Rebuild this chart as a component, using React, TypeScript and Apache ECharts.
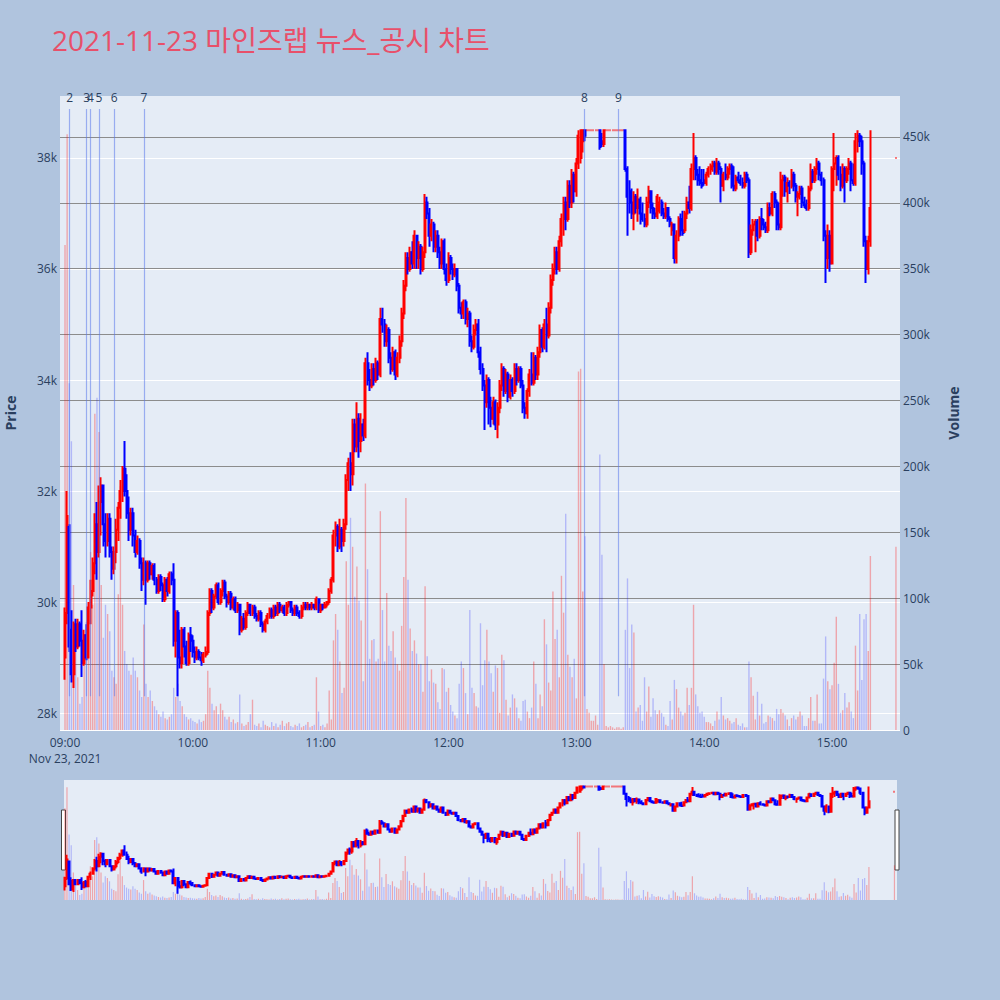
import React, { useEffect, useRef } from "react";
import * as echarts from "echarts";

// [open, close, low, high] in thousand KRW, one row per minute
type OCLH = [number, number, number, number];

const TITLE = "2021-11-23 마인즈랩 뉴스_공시 차트";
const DATE_LABEL = "Nov 23, 2021";
const HOUR_LABELS = ["09:00", "10:00", "11:00", "12:00", "13:00", "14:00", "15:00"];
const HOUR_TICKS = [0, 60, 120, 180, 240, 300, 360]; // minutes after 09:00

const EVENT_LABELS = ["2", "3", "4", "5", "6", "7", "8", "9"];
const EVENT_TIMES = ["09:02:12", "09:10:12", "09:11:54", "09:15:54", "09:23:06", "09:37:06", "13:03:48", "13:19:42"];
const EVENT_LINE_LOW = 28.3;
const EVENT_LINE_HIGH = 38.885;

const c0900: OCLH[] = [
  [29.0, 29.8, 28.6, 29.9], [29.8, 31.55, 29.6, 32.0], [31.35, 29.2, 29.1, 31.4], [29.5, 28.7, 28.55, 29.85], [28.7, 29.6, 28.45, 29.65], [29.6, 29.2, 29.1, 29.7], [29.2, 29.6, 29.15, 29.7], [29.6, 29.3, 29.2, 29.65], [29.3, 28.9, 28.65, 29.85], [28.9, 29.4, 28.85, 29.5],
  [29.4, 29.0, 28.95, 29.6], [29.0, 29.9, 29.0, 30.0], [29.9, 30.2, 29.6, 30.4], [30.2, 30.7, 30.1, 30.8], [30.7, 31.4, 30.5, 31.6], [31.4, 30.9, 30.4, 31.8], [30.9, 31.8, 30.8, 32.1], [31.8, 32.1, 31.2, 32.25], [32.1, 31.4, 31.0, 32.1], [31.4, 31.1, 30.8, 31.6],
  [31.1, 31.5, 31.0, 31.6], [31.5, 30.9, 30.8, 31.6], [30.9, 30.6, 30.4, 31.0], [30.6, 30.9, 30.5, 31.0], [30.9, 31.3, 30.7, 31.5], [31.3, 31.7, 31.1, 31.8], [31.7, 32.0, 31.5, 32.2], [32.0, 32.4, 31.8, 32.45], [32.4, 32.0, 31.9, 32.9], [32.0, 31.6, 31.5, 32.3],
  [31.6, 31.3, 31.1, 31.9], [31.3, 31.6, 31.2, 31.7], [31.6, 31.2, 31.0, 31.7], [31.2, 30.9, 30.8, 31.3], [30.9, 31.1, 30.85, 31.2], [31.1, 30.7, 30.6, 31.15], [30.7, 30.4, 30.2, 30.8], [30.4, 30.7, 30.3, 30.8], [30.7, 30.4, 29.95, 30.75], [30.4, 30.7, 30.35, 30.75],
  [30.7, 30.5, 30.4, 30.75], [30.5, 30.65, 30.4, 30.7], [30.65, 30.4, 30.3, 30.7], [30.4, 30.2, 30.15, 30.45], [30.2, 30.45, 30.15, 30.5], [30.45, 30.3, 30.2, 30.5], [30.3, 30.05, 30.0, 30.35], [30.05, 30.4, 30.0, 30.45], [30.4, 30.2, 30.1, 30.45], [30.2, 30.5, 30.15, 30.55],
  [30.5, 30.4, 30.3, 30.55], [30.4, 29.3, 29.2, 30.7], [29.3, 29.8, 29.0, 29.85], [29.8, 29.0, 28.3, 29.85], [29.0, 28.9, 28.8, 29.5], [28.9, 29.5, 28.8, 29.55], [29.5, 29.2, 29.0, 29.55], [29.2, 28.9, 28.85, 29.3], [28.9, 29.4, 28.85, 29.45], [29.4, 29.3, 29.1, 29.55],
];

const c1000: OCLH[] = [
  [29.3, 29.1, 29.0, 29.4], [29.1, 29.0, 28.9, 29.2], [29.0, 29.1, 28.95, 29.2], [29.1, 29.0, 28.95, 29.15], [29.0, 28.95, 28.85, 29.1], [28.95, 29.05, 28.9, 29.1], [29.05, 29.1, 29.0, 29.2], [29.1, 29.8, 29.05, 29.85], [29.8, 30.2, 29.75, 30.25], [30.2, 29.9, 29.8, 30.25],
  [29.9, 30.1, 29.85, 30.15], [30.1, 30.3, 30.05, 30.35], [30.3, 30.0, 29.95, 30.35], [30.0, 30.2, 29.95, 30.25], [30.2, 30.35, 30.1, 30.4], [30.35, 30.1, 30.05, 30.4], [30.1, 30.0, 29.9, 30.15], [30.0, 30.15, 29.95, 30.2], [30.15, 29.9, 29.85, 30.2], [29.9, 30.05, 29.85, 30.1],
  [30.05, 29.85, 29.8, 30.1], [29.85, 29.95, 29.8, 30.0], [29.95, 29.5, 29.4, 29.95], [29.5, 29.7, 29.45, 29.75], [29.7, 29.55, 29.5, 29.8], [29.55, 29.8, 29.5, 29.85], [29.8, 29.95, 29.75, 30.0], [29.95, 29.8, 29.75, 29.95], [29.8, 29.9, 29.75, 29.95], [29.9, 29.75, 29.7, 29.95],
  [29.75, 29.7, 29.65, 29.8], [29.7, 29.8, 29.65, 29.85], [29.8, 29.6, 29.55, 29.85], [29.6, 29.5, 29.45, 29.65], [29.5, 29.65, 29.45, 29.7], [29.65, 29.75, 29.6, 29.8], [29.75, 29.85, 29.7, 29.9], [29.85, 29.75, 29.7, 29.9], [29.75, 29.9, 29.7, 29.95], [29.9, 29.8, 29.75, 29.95],
  [29.8, 29.95, 29.75, 30.0], [29.95, 29.85, 29.8, 30.0], [29.85, 29.9, 29.8, 29.95], [29.9, 29.8, 29.75, 29.95], [29.8, 29.95, 29.75, 30.0], [29.95, 30.0, 29.9, 30.0], [30.0, 29.85, 29.8, 30.0], [29.85, 29.8, 29.75, 29.9], [29.8, 29.9, 29.75, 29.95], [29.9, 29.8, 29.75, 29.95],
  [29.8, 29.75, 29.7, 29.85], [29.75, 29.9, 29.7, 29.95], [29.9, 29.95, 29.85, 30.0], [29.95, 29.9, 29.85, 30.0], [29.9, 29.95, 29.85, 30.0], [29.95, 29.9, 29.85, 29.95], [29.9, 29.95, 29.85, 30.0], [29.95, 29.9, 29.85, 29.95], [29.9, 30.05, 29.85, 30.1], [30.05, 29.85, 29.8, 30.05],
];

const c1100: OCLH[] = [
  [29.85, 29.95, 29.8, 29.95], [29.95, 29.9, 29.85, 29.95], [29.9, 29.95, 29.9, 30.0], [29.95, 30.0, 29.9, 30.0], [30.0, 30.2, 29.95, 30.25], [30.2, 30.4, 30.15, 30.45], [30.4, 31.2, 30.35, 31.3], [31.2, 31.35, 31.0, 31.45], [31.35, 31.0, 30.9, 31.4], [31.0, 31.3, 30.95, 31.5],
  [31.3, 31.1, 30.9, 31.35], [31.1, 31.4, 31.0, 31.5], [31.4, 32.2, 31.3, 32.3], [32.2, 32.5, 32.0, 32.6], [32.5, 32.3, 32.0, 32.7], [32.3, 33.2, 32.1, 33.3], [33.2, 32.8, 32.7, 33.3], [32.8, 33.3, 32.7, 33.6], [33.3, 32.9, 32.6, 33.4], [32.9, 33.2, 32.7, 33.4],
  [33.2, 33.0, 32.9, 33.3], [33.0, 34.3, 32.95, 34.4], [34.3, 34.0, 33.9, 34.5], [34.0, 33.9, 33.8, 34.2], [33.9, 34.2, 33.85, 34.3], [34.2, 34.0, 33.9, 34.3], [34.0, 34.3, 33.95, 34.4], [34.3, 34.1, 34.0, 34.35], [34.1, 35.1, 34.05, 35.3], [35.1, 35.0, 34.85, 35.3],
  [35.0, 34.7, 34.6, 35.1], [34.7, 34.9, 34.6, 35.0], [34.9, 34.4, 34.3, 34.95], [34.4, 34.2, 34.1, 34.5], [34.2, 34.5, 34.15, 34.6], [34.5, 34.1, 34.0, 34.55], [34.1, 34.4, 34.05, 34.5], [34.4, 34.7, 34.3, 34.8], [34.7, 35.2, 34.6, 35.3], [35.2, 35.7, 35.1, 35.8],
  [35.7, 36.2, 35.6, 36.3], [36.2, 36.0, 35.9, 36.3], [36.0, 36.3, 35.95, 36.4], [36.3, 36.1, 36.0, 36.5], [36.1, 36.6, 36.0, 36.7], [36.6, 36.2, 36.0, 36.6], [36.2, 36.4, 36.0, 36.5], [36.4, 36.0, 35.9, 36.45], [36.0, 36.3, 35.95, 36.4], [36.3, 37.2, 36.2, 37.35],
  [37.2, 37.0, 36.9, 37.3], [37.0, 36.6, 36.4, 37.1], [36.6, 36.8, 36.5, 36.9], [36.8, 36.4, 36.3, 36.85], [36.4, 36.6, 36.3, 36.7], [36.6, 36.3, 36.2, 36.7], [36.3, 36.1, 36.0, 36.4], [36.1, 36.5, 36.0, 36.55], [36.5, 36.0, 35.9, 36.55], [36.0, 35.8, 35.7, 36.1],
];

const c1200: OCLH[] = [
  [35.8, 36.2, 35.75, 36.3], [36.2, 36.0, 35.9, 36.25], [36.0, 35.9, 35.8, 36.1], [35.9, 36.0, 35.85, 36.1], [36.0, 35.7, 35.6, 36.0], [35.7, 35.3, 35.2, 35.75], [35.3, 35.2, 35.1, 35.4], [35.2, 35.4, 35.1, 35.45], [35.4, 35.1, 35.0, 35.45], [35.1, 35.2, 34.95, 35.3],
  [35.2, 34.7, 34.6, 35.25], [34.7, 34.6, 34.5, 34.8], [34.6, 34.9, 34.55, 35.0], [34.9, 35.0, 34.8, 35.1], [35.0, 34.5, 34.4, 35.1], [34.5, 34.2, 34.1, 34.6], [34.2, 33.9, 33.8, 34.3], [33.9, 33.6, 33.1, 34.0], [33.6, 34.0, 33.5, 34.1], [34.0, 33.5, 33.2, 34.05],
  [33.5, 33.3, 33.15, 33.7], [33.3, 33.6, 33.2, 33.7], [33.6, 33.2, 33.1, 33.65], [33.2, 33.5, 32.95, 33.6], [33.5, 33.9, 33.4, 34.0], [33.9, 34.2, 33.8, 34.3], [34.2, 33.8, 33.7, 34.25], [33.8, 34.1, 33.75, 34.2], [34.1, 33.7, 33.6, 34.15], [33.7, 34.0, 33.65, 34.1],
  [34.0, 33.8, 33.7, 34.05], [33.8, 34.2, 33.75, 34.3], [34.2, 34.0, 33.9, 34.3], [34.0, 34.2, 33.95, 34.25], [34.2, 33.9, 33.85, 34.25], [33.9, 33.5, 33.4, 34.0], [33.5, 33.4, 33.3, 33.6], [33.4, 33.8, 33.3, 33.85], [33.8, 34.1, 33.7, 34.2], [34.1, 33.95, 33.9, 34.5],
  [33.95, 34.4, 33.9, 34.5], [34.4, 34.1, 34.0, 34.45], [34.1, 34.5, 34.0, 34.6], [34.5, 34.9, 34.4, 35.0], [34.9, 34.6, 34.5, 34.95], [34.6, 35.0, 34.55, 35.1], [35.0, 34.8, 34.5, 35.3], [34.8, 35.3, 34.75, 35.4], [35.3, 35.8, 35.2, 35.9], [35.8, 36.0, 35.7, 36.1],
  [36.0, 36.3, 35.9, 36.4], [36.3, 36.0, 35.9, 36.4], [36.0, 36.5, 35.95, 36.6], [36.5, 36.9, 36.4, 37.0], [36.9, 37.2, 36.6, 37.3], [37.2, 36.9, 36.7, 37.3], [36.9, 37.5, 36.85, 37.6], [37.5, 37.2, 37.1, 37.6], [37.2, 37.7, 37.1, 37.8], [37.7, 37.4, 37.2, 37.75],
];

const c1300: OCLH[] = [
  [37.4, 37.9, 37.3, 38.0], [37.9, 38.4, 37.8, 38.5], [38.0, 38.5, 37.9, 38.5], [38.3, 38.5, 38.1, 38.5], [38.5, 38.4, 38.3, 38.5], [38.5, 38.5, 38.5, 38.5], [38.5, 38.5, 38.5, 38.5], [38.5, 38.5, 38.5, 38.5], [38.5, 38.5, 38.5, 38.5], [38.5, 38.5, 38.5, 38.5],
  [38.5, 38.5, 38.5, 38.5], [38.5, 38.2, 38.15, 38.5], [38.3, 38.25, 38.2, 38.45], [38.25, 38.5, 38.2, 38.5], [38.5, 38.5, 38.5, 38.5], [38.5, 38.5, 38.5, 38.5], [38.5, 38.5, 38.5, 38.5], [38.5, 38.5, 38.5, 38.5], [38.5, 38.5, 38.5, 38.5], [38.5, 38.5, 38.5, 38.5],
  [38.5, 38.5, 38.5, 38.5], [38.5, 38.5, 38.5, 38.5], [38.5, 38.5, 38.5, 38.5], [38.5, 37.8, 37.75, 38.5], [37.8, 37.3, 36.6, 37.85], [37.4, 37.2, 37.0, 37.6], [37.2, 37.0, 36.9, 37.45], [37.0, 37.3, 36.7, 37.4], [37.3, 37.1, 37.0, 37.35], [37.1, 37.25, 36.85, 37.45],
  [37.25, 37.0, 36.8, 37.3], [37.0, 36.9, 36.85, 37.2], [36.9, 36.8, 36.75, 37.0], [36.8, 37.2, 36.75, 37.3], [37.2, 37.4, 37.1, 37.5], [37.4, 37.1, 37.0, 37.4], [37.1, 37.0, 36.9, 37.2], [37.0, 36.95, 36.9, 37.1], [36.95, 37.3, 36.9, 37.35], [37.05, 37.2, 37.0, 37.3],
  [37.2, 37.0, 36.95, 37.25], [37.0, 36.95, 36.9, 37.1], [36.95, 37.1, 36.9, 37.2], [37.1, 36.9, 36.85, 37.1], [36.9, 36.8, 36.75, 36.95], [36.7, 36.8, 36.6, 36.85], [36.8, 36.2, 36.1, 36.8], [36.2, 36.6, 36.1, 36.7], [36.6, 36.9, 36.5, 36.95], [36.9, 36.7, 36.6, 37.0],
  [36.7, 36.65, 36.6, 37.05], [36.7, 37.0, 36.65, 37.05], [37.0, 37.2, 36.9, 37.3], [37.2, 37.1, 37.0, 37.5], [37.1, 37.8, 37.05, 37.9], [37.8, 38.0, 37.6, 38.45], [38.0, 37.7, 37.6, 38.05], [37.7, 37.6, 37.5, 37.8], [37.6, 37.55, 37.5, 37.85], [37.55, 37.5, 37.45, 37.8],
];

const c1400: OCLH[] = [
  [37.6, 37.55, 37.5, 37.8], [37.55, 37.7, 37.5, 37.75], [37.7, 37.8, 37.65, 37.85], [37.8, 37.85, 37.7, 37.9], [37.85, 37.9, 37.75, 37.95], [37.9, 37.75, 37.7, 37.95], [37.75, 37.9, 37.7, 38.0], [37.9, 37.8, 37.7, 37.95], [37.8, 37.5, 37.2, 37.85], [37.5, 37.7, 37.4, 37.75],
  [37.7, 37.65, 37.6, 37.9], [37.65, 37.8, 37.6, 37.85], [37.8, 37.85, 37.7, 37.9], [37.85, 37.5, 37.45, 37.9], [37.5, 37.45, 37.4, 37.85], [37.45, 37.65, 37.4, 37.7], [37.65, 37.6, 37.55, 37.75], [37.6, 37.55, 37.5, 37.7], [37.55, 37.5, 37.45, 37.65], [37.5, 37.7, 37.45, 37.75],
  [37.7, 37.6, 37.55, 37.75], [37.6, 36.3, 36.2, 37.65], [36.3, 36.7, 36.25, 36.8], [36.7, 36.8, 36.6, 36.9], [36.8, 36.85, 36.3, 36.9], [36.85, 36.6, 36.5, 36.9], [36.6, 36.9, 36.55, 36.95], [36.9, 36.8, 36.7, 37.1], [36.8, 36.75, 36.7, 36.9], [36.75, 36.7, 36.65, 36.85],
  [36.7, 37.1, 36.65, 37.2], [37.1, 37.0, 36.95, 37.2], [37.0, 37.35, 36.95, 37.4], [37.35, 37.2, 37.1, 37.4], [37.2, 36.8, 36.7, 37.25], [36.8, 36.75, 36.7, 37.2], [36.75, 37.6, 36.7, 37.75], [37.6, 37.65, 37.3, 37.7], [37.65, 37.4, 37.3, 37.7], [37.4, 37.55, 37.2, 37.65],
  [37.55, 37.5, 37.35, 37.6], [37.5, 37.7, 37.45, 37.8], [37.7, 37.5, 37.4, 37.75], [37.5, 37.3, 37.2, 37.55], [37.3, 37.35, 36.95, 37.4], [37.35, 37.45, 37.25, 37.5], [37.45, 37.2, 37.1, 37.5], [37.2, 37.15, 37.1, 37.3], [37.15, 37.1, 37.05, 37.25], [37.1, 37.45, 37.05, 37.5],
  [37.45, 37.75, 37.4, 37.9], [37.75, 37.6, 37.55, 37.8], [37.6, 37.8, 37.55, 37.85], [37.8, 37.9, 37.7, 38.0], [37.9, 37.7, 37.6, 37.95], [37.7, 37.6, 37.5, 37.75], [37.6, 36.6, 36.5, 37.65], [36.6, 36.2, 35.75, 36.7], [36.2, 36.6, 36.0, 36.8], [36.6, 36.1, 35.95, 36.7],
];

const c1500: OCLH[] = [
  [36.1, 37.8, 36.1, 37.85], [37.8, 37.9, 37.4, 38.45], [37.9, 38.0, 37.5, 38.05], [38.0, 37.7, 37.6, 38.05], [37.7, 37.5, 37.4, 37.85], [37.5, 37.8, 37.45, 37.9], [37.8, 37.6, 37.2, 37.85], [37.6, 37.8, 37.55, 37.85], [37.8, 37.9, 37.7, 38.0], [37.9, 37.6, 37.4, 37.95],
  [37.6, 37.55, 37.5, 37.9], [37.55, 38.3, 37.5, 38.45], [38.3, 38.4, 38.1, 38.5], [38.4, 38.3, 38.2, 38.45], [38.3, 37.9, 37.7, 38.4], [37.9, 36.5, 36.4, 37.95], [36.5, 36.0, 35.75, 36.6], [36.0, 36.5, 35.9, 36.6], [36.5, 37.1, 36.4, 38.5],
];

const CLOSING_MINUTE = 390; // 15:30 closing auction
const closingCandle: OCLH = [38.0, 38.0, 38.0, 38.0];

// volume per minute, thousand shares
const v0900 = [
  368, 452, 263, 219, 110, 75, 40, 20, 25, 55,
  82, 90, 135, 95, 240, 252, 226, 110, 70, 95,
  88, 75, 45, 40, 35, 103, 185, 95, 60, 50,
  45, 42, 55, 45, 40, 30, 25, 80, 35, 25,
  30, 22, 18, 15, 12, 10, 14, 9, 8, 10,
  12, 32, 25, 35, 22, 18, 12, 10, 8, 9,
];
const v1000 = [
  7, 6, 5, 8, 6, 7, 12, 45, 32, 20,
  15, 18, 12, 20, 15, 10, 8, 10, 6, 8,
  5, 6, 27, 5, 3, 4, 6, 12, 23, 4,
  3, 5, 2, 7, 4, 3, 2, 6, 3, 5,
  2, 4, 7, 3, 5, 6, 3, 2, 4, 3,
  5, 2, 3, 4, 6, 2, 3, 4, 40, 14,
];
const v1100 = [
  3, 4, 2, 5, 30, 8, 68, 88, 76, 52,
  28, 32, 128, 95, 161, 139, 101, 124, 98, 83,
  37, 187, 122, 54, 68, 69, 52, 54, 166, 91,
  52, 104, 64, 60, 75, 55, 50, 45, 79, 116,
  176, 114, 77, 60, 68, 58, 50, 50, 29, 109,
  56, 37, 46, 36, 35, 21, 16, 47, 46, 29,
];
const v1200 = [
  32, 19, 14, 11, 9, 35, 52, 47, 28, 12,
  91, 32, 28, 18, 17, 81, 34, 53, 76, 52,
  43, 29, 49, 47, 13, 57, 53, 23, 11, 17,
  27, 24, 17, 9, 7, 22, 23, 14, 9, 17,
  52, 35, 9, 27, 18, 84, 65, 36, 30, 105,
  69, 76, 40, 117, 89, 164, 57, 48, 40, 54,
];
const v1300 = [
  24, 272, 274, 105, 147, 16, 13, 7, 7, 11,
  4, 209, 133, 50, 3, 2, 3, 2, 1, 2,
  2, 1, 2, 76, 115, 47, 80, 74, 14, 17,
  19, 7, 40, 14, 33, 10, 24, 15, 12, 15,
  13, 10, 4, 3, 22, 8, 38, 31, 17, 14,
  11, 13, 32, 19, 32, 95, 27, 18, 13, 14,
];
const v1400 = [
  10, 6, 6, 5, 3, 7, 14, 8, 25, 11,
  8, 9, 7, 5, 6, 9, 4, 3, 5, 2,
  2, 52, 40, 26, 8, 29, 11, 20, 5, 6,
  11, 10, 9, 7, 16, 12, 16, 13, 11, 8,
  3, 9, 11, 8, 10, 14, 11, 3, 3, 9,
  25, 7, 7, 27, 5, 5, 39, 71, 37, 31,
];
const v1500 = [
  34, 51, 86, 35, 13, 15, 28, 17, 21, 14,
  9, 64, 30, 88, 38, 84, 88, 60, 132,
];
const closingVolume = 139;

const HOUR_BLOCKS: [number, OCLH[], number[]][] = [
  [0, c0900, v0900],
  [60, c1000, v1000],
  [120, c1100, v1100],
  [180, c1200, v1200],
  [240, c1300, v1300],
  [300, c1400, v1400],
  [360, c1500, v1500],
];

const UP = "#FF0000";
const DOWN = "#0000FF";
const UP_VOL = "rgba(255,0,0,0.3)";
const DOWN_VOL = "rgba(0,0,255,0.22)";
const TEXT = "#2a3f5f";
const FONT = '"Open Sans", "Noto Sans CJK KR", "DejaVu Sans", sans-serif';

const PRICE_MIN = 27.694;
const PRICE_MAX = 39.117;
const VOL_MAX = 481000;

function toMinutes(t: string): number {
  const [h, m, s] = t.split(":").map(Number);
  return (h - 9) * 60 + m + s / 60;
}

function buildData() {
  const candles: number[][] = [];
  const volumes: any[] = [];
  const push = (x: number, d: OCLH, v: number) => {
    candles.push([x, d[0], d[1], d[2], d[3]]);
    volumes.push({ value: [x, v * 1000], itemStyle: { color: d[1] >= d[0] ? UP_VOL : DOWN_VOL } });
  };
  HOUR_BLOCKS.forEach(([start, cs, vs]) => {
    cs.forEach((d, i) => push(start + i, d, vs[i]));
  });
  push(CLOSING_MINUTE, closingCandle, closingVolume);
  return { candles, volumes };
}

export default function App() {
  const ref = useRef<HTMLDivElement>(null);

  useEffect(() => {
    document.body.style.margin = "0";
    if (!ref.current) return;
    const chart = echarts.init(ref.current, null, { renderer: "svg" });
    const { candles, volumes } = buildData();

    const eventLines = EVENT_TIMES.map((t, i) => {
      const x = toMinutes(t);
      return [
        { coord: [x, EVENT_LINE_LOW], name: EVENT_LABELS[i] },
        { coord: [x, EVENT_LINE_HIGH] },
      ];
    });

    const volSplitColors = ["#ffffff", "#8c8c8c", "#8c8c8c", "#8c8c8c", "#8c8c8c", "#8c8c8c", "#8c8c8c", "#8c8c8c", "#8c8c8c", "#8c8c8c", "rgba(0,0,0,0)"];

    const candleStyle = (w: number) => ({
      color: UP,
      color0: DOWN,
      borderColor: UP,
      borderColor0: DOWN,
      borderColorDoji: UP,
      borderWidth: w,
    });

    const option: any = {
      animation: false,
      backgroundColor: "#B0C4DE",
      textStyle: { fontFamily: FONT },
      title: {
        text: TITLE,
        left: 47,
        top: 21,
        textStyle: { color: "#E8506A", fontSize: 28, fontWeight: "normal", fontFamily: FONT },
      },
      grid: [
        { left: 60, top: 96, width: 840, height: 634, show: true, backgroundColor: "#E5ECF6", borderWidth: 0 },
        { left: 64, top: 780, width: 833, height: 120, show: true, backgroundColor: "#E5ECF6", borderWidth: 0 },
      ],
      xAxis: [
        {
          type: "value",
          gridIndex: 0,
          min: -2.35,
          max: 391.9,
          axisLine: { show: false },
          axisTick: { show: false },
          splitLine: { show: false },
          axisLabel: {
            customValues: HOUR_TICKS,
            color: TEXT,
            fontSize: 12,
            fontFamily: FONT,
            margin: 5,
            lineHeight: 15.5,
            formatter: (v: number) => {
              const i = HOUR_TICKS.indexOf(Math.round(v));
              const lab = i >= 0 ? HOUR_LABELS[i] : "";
              return i === 0 ? lab + "\n" + DATE_LABEL : lab;
            },
          },
        },
        { type: "value", gridIndex: 1, min: -0.4, max: 391.2, show: false, splitLine: { show: false } },
      ],
      yAxis: [
        {
          type: "value",
          gridIndex: 0,
          position: "left",
          min: PRICE_MIN,
          max: PRICE_MAX,
          splitNumber: 5,
          axisLine: { show: false },
          axisTick: { show: false },
          axisLabel: {
            color: TEXT,
            fontSize: 12,
            fontFamily: FONT,
            margin: 3,
            showMinLabel: false,
            showMaxLabel: false,
            formatter: (v: number) => `${Math.round(v)}k`,
          },
          splitLine: { show: true, showMaxLine: false, lineStyle: { color: "#ffffff", width: 1 } },
        },
        {
          type: "value",
          gridIndex: 0,
          position: "right",
          min: 0,
          max: VOL_MAX,
          interval: 50000,
          axisLine: { show: false },
          axisTick: { show: false },
          axisLabel: {
            color: TEXT,
            fontSize: 12,
            fontFamily: FONT,
            margin: 3,
            showMaxLabel: false,
            formatter: (v: number) => (v === 0 ? "0" : `${Math.round(v / 1000)}k`),
          },
          splitLine: { show: true, lineStyle: { color: volSplitColors, width: 1 } },
        },
        { type: "value", gridIndex: 1, min: PRICE_MIN, max: PRICE_MAX, show: false, splitLine: { show: false } },
        { type: "value", gridIndex: 1, min: 0, max: VOL_MAX, show: false, splitLine: { show: false } },
      ],
      graphic: [
        {
          type: "text",
          x: 10,
          y: 413,
          rotation: Math.PI / 2,
          style: { text: "Price", fill: TEXT, font: `bold 14px ${FONT}`, align: "center", verticalAlign: "middle" },
        },
        {
          type: "text",
          x: 953,
          y: 413,
          rotation: Math.PI / 2,
          style: { text: "Volume", fill: TEXT, font: `bold 14px ${FONT}`, align: "center", verticalAlign: "middle" },
        },
        { type: "rect", shape: { x: 61.5, y: 810, width: 4, height: 60 }, style: { fill: "#ffffff", stroke: "#444444", lineWidth: 1 } },
        { type: "rect", shape: { x: 895, y: 810, width: 4, height: 60 }, style: { fill: "#ffffff", stroke: "#444444", lineWidth: 1 } },
      ],
      series: [
        {
          type: "bar",
          name: "Volume",
          xAxisIndex: 0,
          yAxisIndex: 1,
          data: volumes,
          barWidth: 1.4,
          silent: true,
        },
        {
          type: "candlestick",
          name: "Price",
          xAxisIndex: 0,
          yAxisIndex: 0,
          data: candles,
          encode: { x: 0, y: [1, 2, 3, 4] },
          barWidth: 1.5,
          silent: true,
          itemStyle: candleStyle(2),
          markLine: {
            silent: true,
            symbol: ["none", "none"],
            animation: false,
            lineStyle: { color: "rgba(90,120,235,0.55)", width: 1.2, type: "solid" },
            label: { show: true, position: "end", formatter: "{b}", color: TEXT, fontSize: 12, fontFamily: FONT, distance: 5 },
            data: eventLines,
          },
        },
        {
          type: "bar",
          xAxisIndex: 1,
          yAxisIndex: 3,
          data: volumes,
          barWidth: 1.2,
          silent: true,
        },
        {
          type: "candlestick",
          xAxisIndex: 1,
          yAxisIndex: 2,
          data: candles,
          encode: { x: 0, y: [1, 2, 3, 4] },
          barWidth: 1.5,
          silent: true,
          itemStyle: candleStyle(2),
        },
      ],
    };

    chart.setOption(option);
    return () => {
      chart.dispose();
    };
  }, []);

  return <div ref={ref} style={{ width: 1000, height: 1000 }} />;
}
